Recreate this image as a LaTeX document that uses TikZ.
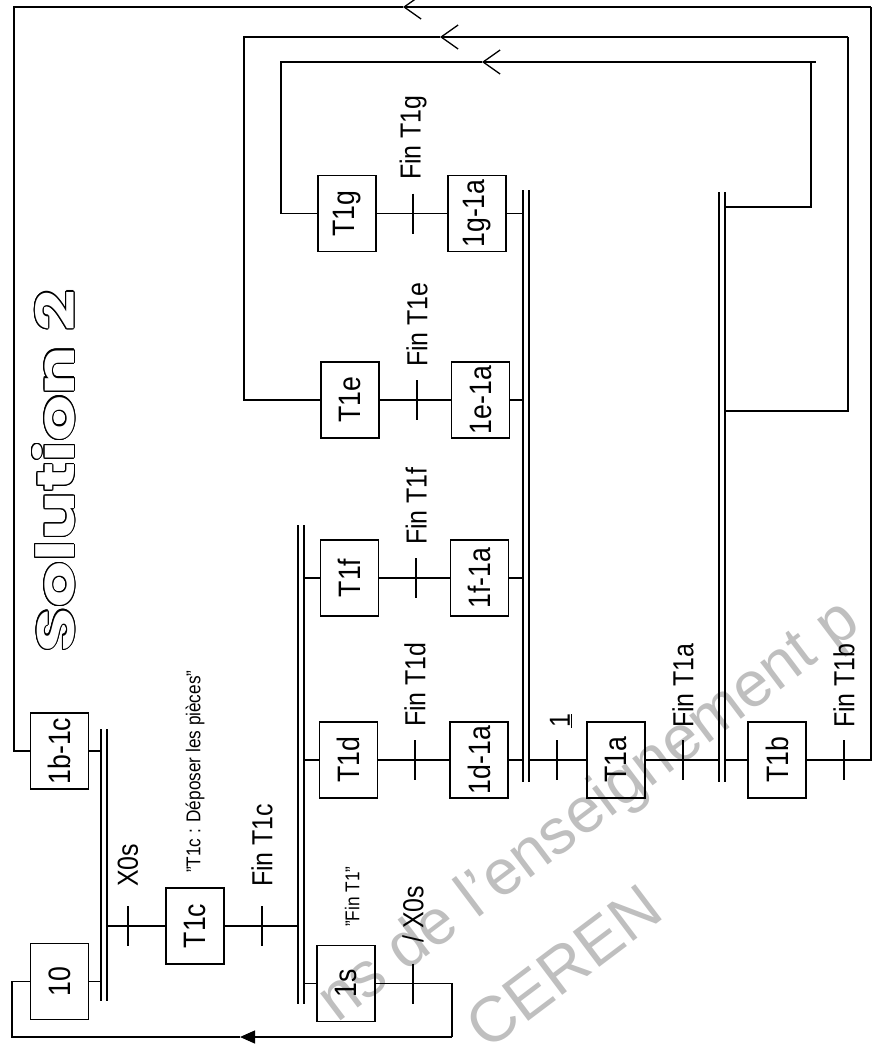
\documentclass[tikz,border=0pt]{standalone}
\usepackage{fontspec}
\setmainfont{Liberation Sans}
\newfontfamily\titlefont{Poppins}
\usepackage{contour}
\contourlength{1.3pt}
\usetikzlibrary{arrows.meta}
\newcommand\sq[1]{\scalebox{0.86}[1]{#1}}
\newcommand\bx[1]{\rotatebox{90}{\sq{#1}}}
\newcommand\boxfont{\fontsize{31}{32}\selectfont}
\newcommand\lblfont{\fontsize{29}{30}\selectfont}
\newcommand\cmtfont{\fontsize{20}{22}\selectfont}
\tikzset{
  stepbox/.style={draw, line width=1.3pt, minimum width=58pt, minimum height=76pt, inner sep=0pt, font=\boxfont},
  wire/.style={line width=1.2pt},
  bar/.style={line width=1.8pt},
  lbl/.style={rotate=90, anchor=west, inner sep=0pt, font=\lblfont},
  cmt/.style={rotate=90, anchor=west, inner sep=0pt, font=\cmtfont},
  openarrow/.style={-{Straight Barb[length=17pt,width=24pt,line width=1.3pt]}},
  fillarrow/.style={-{Triangle[length=15pt,width=13pt]}},
  tick/.style={line width=1.2pt},
  wmark/.style={anchor=base west, inner sep=0pt, text=black!25, font=\fontsize{64}{64}\selectfont},
}
\begin{document}
\begin{tikzpicture}[x=1pt,y=-1pt]
\useasboundingbox (0,0) rectangle (873,1044);
\fill[white] (0,0) rectangle (873,1044);
% watermark
\begin{scope}
\clip (0,0) rectangle (873,1044);
\node[wmark, rotate=37] (wm1) at (337,1024) {ns de l'enseignement p};
\node[wmark, rotate=37] (wm2) at (487,1052) {CEREN};
\end{scope}
% title
\node[rotate=90, inner sep=0pt] (title) at (54,471) {\resizebox{362pt}{42pt}{\fontsize{74}{74}\titlefont\bfseries\textcolor{white}{\contour{black}{Solution 2}}}};
% bars
\coordinate (B1L) at (101,865); \coordinate (B1R) at (107,865);
\coordinate (B2L) at (298,760); \coordinate (B2R) at (304,760);
\coordinate (B3L) at (523,480); \coordinate (B3R) at (529,480);
\coordinate (B4L) at (719,480); \coordinate (B4R) at (725,480);
\draw[bar] (101,729) -- (101,1001); \draw[bar] (107,729) -- (107,1001);
\draw[bar] (298,525) -- (298,1004); \draw[bar] (304,525) -- (304,1004);
\draw[bar] (523,190) -- (523,782); \draw[bar] (529,190) -- (529,782);
\draw[bar] (719,192) -- (719,782); \draw[bar] (725,192) -- (725,782);
% steps
\node[stepbox] (s10) at (59.5,981.5) {\bx{10}};
\node[stepbox] (s1b1c) at (59.5,751) {\bx{1b-1c}};
\node[stepbox] (sT1c) at (195,926) {\bx{T1c}};
\node[stepbox] (s1s) at (346,983.5) {\bx{1s}};
\node[stepbox] (sT1d) at (348.5,760) {\bx{T1d}};
\node[stepbox] (sT1f) at (349.5,578) {\bx{T1f}};
\node[stepbox] (sT1e) at (350,400) {\bx{T1e}};
\node[stepbox] (sT1g) at (347,213.5) {\bx{T1g}};
\node[stepbox] (s1d1a) at (479,760) {\bx{1d-1a}};
\node[stepbox] (s1f1a) at (479.5,578) {\bx{1f-1a}};
\node[stepbox] (s1e1a) at (480.5,400) {\bx{1e-1a}};
\node[stepbox] (s1g1a) at (477,213.5) {\bx{1g-1a}};
\node[stepbox] (sT1a) at (616,760) {\bx{T1a}};
\node[stepbox] (sT1b) at (777,760) {\bx{T1b}};
% transition ticks
\coordinate (tX0s) at (128,926);
\coordinate (tFinT1c) at (262,926);
\coordinate (tnX0s) at (413,983.5);
\coordinate (tFinT1d) at (415,760);
\coordinate (tFinT1f) at (416,578);
\coordinate (tFinT1e) at (417,400);
\coordinate (tFinT1g) at (413,213.5);
\coordinate (tOne) at (557,760);
\coordinate (tFinT1a) at (683,760);
\coordinate (tFinT1b) at (844,760);
\foreach \t in {tX0s,tFinT1c,tnX0s,tFinT1d,tFinT1f,tFinT1e,tFinT1g,tOne,tFinT1a,tFinT1b}
  \draw[tick] (\t) +(0,-20) -- +(0,20);
% connectors
\draw[wire] (s10.east) -- (s10.east -| B1L);
\draw[wire] (s1b1c.east) -- (s1b1c.east -| B1L);
\draw[wire] (sT1c.west -| B1R) -- (sT1c.west);
\draw[wire] (sT1c.east) -- (sT1c.east -| B2L);
\draw[wire] (s1s.west -| B2R) -- (s1s.west);
\draw[wire] (sT1d.west -| B2R) -- (sT1d.west);
\draw[wire] (sT1f.west -| B2R) -- (sT1f.west);
\draw[wire] (sT1d.east) -- (s1d1a.west);
\draw[wire] (sT1f.east) -- (s1f1a.west);
\draw[wire] (sT1e.east) -- (s1e1a.west);
\draw[wire] (sT1g.east) -- (s1g1a.west);
\draw[wire] (s1d1a.east) -- (s1d1a.east -| B3L);
\draw[wire] (s1f1a.east) -- (s1f1a.east -| B3L);
\draw[wire] (s1e1a.east) -- (s1e1a.east -| B3L);
\draw[wire] (s1g1a.east) -- (s1g1a.east -| B3L);
\draw[wire] (sT1a.west -| B3R) -- (sT1a.west);
\draw[wire] (sT1a.east) -- (sT1a.east -| B4L);
\draw[wire] (sT1b.west -| B4R) -- (sT1b.west);
% loop from 1s back to 10
\coordinate (r1) at (452,983.5);
\coordinate (r2) at (452,1037);
\coordinate (ar0) at (240,1037);
\coordinate (r3) at (12,1037);
\draw[wire] (s1s.east) -- (r1) -- (r2);
\draw[wire, fillarrow] (r2) -- (ar0);
\draw[wire] (ar0) -- (r3) -- (r3 |- s10.west) -- (s10.west);
% outer loop T1b -> 1b-1c
\coordinate (o1) at (871,760);
\coordinate (o2) at (871,7);
\coordinate (ar1) at (403,7);
\coordinate (o3) at (14,7);
\draw[wire] (sT1b.east) -- (o1) -- (o2);
\draw[wire, openarrow] (o2) -- (ar1);
\draw[wire] (ar1) -- (o3) -- (o3 |- s1b1c.west) -- (s1b1c.west);
% loop to T1e
\coordinate (e0) at (725,411);
\coordinate (e1) at (848,411);
\coordinate (e2) at (848,37);
\coordinate (ar2) at (440,37);
\coordinate (e3) at (244,37);
\draw[wire] (e0) -- (e1) -- (e2);
\draw[wire, openarrow] (e2) -- (ar2);
\draw[wire] (ar2) -- (e3) -- (e3 |- sT1e.west) -- (sT1e.west);
% loop to T1g
\coordinate (g0) at (725,207);
\coordinate (g1) at (811,207);
\coordinate (g2) at (811,62);
\coordinate (ar3) at (482,62);
\coordinate (g3) at (281,62);
\draw[wire] (g0) -- (g1) -- (g2) -- (816,62);
\draw[wire, openarrow] (g2) -- (ar3);
\draw[wire] (ar3) -- (g3) -- (g3 |- sT1g.west) -- (sT1g.west);
% labels
\node[lbl] (lX0s) at (128,887) {\sq{X0s}};
\node[lbl] (lFinT1c) at (262,887) {\sq{Fin T1c}};
\node[lbl] (lnX0s) at (413,943) {\sq{/ X0s}};
\node[lbl] (lFinT1d) at (415,727) {\sq{Fin T1d}};
\node[lbl] (lFinT1f) at (416,545) {\sq{Fin T1f}};
\node[lbl] (lFinT1e) at (417,367) {\sq{Fin T1e}};
\node[lbl] (lFinT1g) at (413,180) {\sq{Fin T1g}};
\node[lbl] (lOne) at (561,728) {\sq{\underline{1}}};
\node[lbl] (lFinT1a) at (683,728) {\sq{Fin T1a}};
\node[lbl] (lFinT1b) at (844,728) {\sq{Fin T1b}};
\node[cmt] (cT1c) at (195,873) {\sq{''T1c : Déposer les pièces''}};
\node[cmt] (cFinT1) at (352,927) {\sq{''Fin T1''}};
\end{tikzpicture}
\end{document}
